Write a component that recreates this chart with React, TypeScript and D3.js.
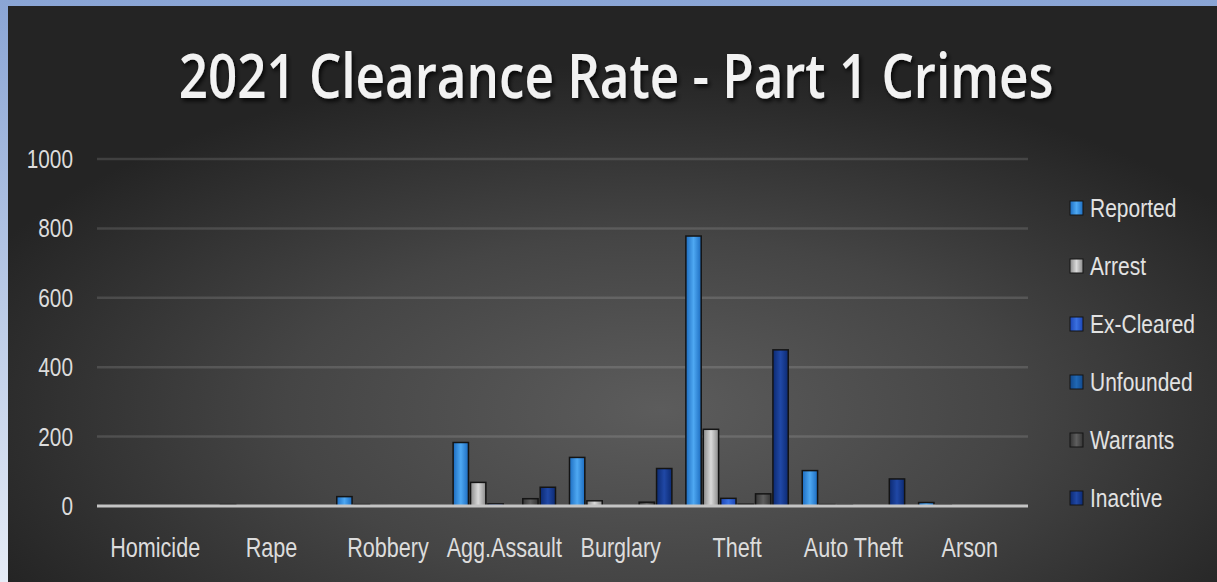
import React from "react";
import * as d3 from "d3";

const categories = ["Homicide", "Rape", "Robbery", "Agg.Assault", "Burglary", "Theft", "Auto Theft", "Arson"];
const seriesNames = ["Reported", "Arrest", "Ex-Cleared", "Unfounded", "Warrants", "Inactive"];
const reported = [1, 4, 27, 183, 140, 778, 102, 10];
const arrest = [0, 0, 4, 68, 15, 221, 4, 3];
const exCleared = [0, 0, 1, 6, 0, 22, 3, 0];
const unfounded = [0, 0, 0, 0, 0, 5, 0, 0];
const warrants = [0, 0, 0, 21, 11, 35, 0, 0];
const inactive = [0, 0, 0, 54, 108, 450, 78, 0];
const yTicks = [0, 200, 400, 600, 800, 1000];
const title = "2021 Clearance Rate - Part 1 Crimes";

const seriesValues = [reported, arrest, exCleared, unfounded, warrants, inactive];
const seriesColors = [
  ["#1c6cc0", "#4ea8f2"],
  ["#8a8a8a", "#dadada"],
  ["#1b45b5", "#3a70e0"],
  ["#12488a", "#2068b4"],
  ["#353535", "#5e5e5e"],
  ["#0c2a72", "#2048a6"],
];

const W = 1217;
const H = 582;
const FONT = "'Liberation Sans', Arial, sans-serif";

function NarrowText(props: {
  x: number;
  y: number;
  sx: number;
  size: number;
  anchor?: "start" | "middle" | "end";
  fill: string;
  children: React.ReactNode;
}) {
  return (
    <g transform={`translate(${props.x},${props.y}) scale(${props.sx},1)`}>
      <text x={0} y={0} textAnchor={props.anchor || "start"} fontFamily={FONT} fontSize={props.size} fill={props.fill}>
        {props.children}
      </text>
    </g>
  );
}

export default function App() {
  const plotLeft = 97;
  const plotRight = 1028;
  const y = d3.scaleLinear().domain([0, 1000]).range([506, 159]);
  const x0 = d3.scaleBand<string>().domain(categories).range([plotLeft, plotRight]).padding(0);
  const gw = x0.bandwidth();
  const x1 = d3.scaleBand<string>().domain(seriesNames).range([7, gw - 7]).paddingInner(0.12);

  const legendY = d3.scalePoint<string>().domain(seriesNames).range([208, 498]);

  return (
    <svg width={W} height={H} style={{ position: "absolute", left: 0, top: 0 }}>
      <defs>
        <linearGradient id="slideBg" x1="0" y1="0" x2="0" y2="1">
          <stop offset="0" stopColor="#8aa5d5" />
          <stop offset="1" stopColor="#e6ecf6" />
        </linearGradient>
        <radialGradient id="chartBg" cx="0.52" cy="0.7" r="0.6" fx="0.54" fy="0.7">
          <stop offset="0" stopColor="#5c5c5c" />
          <stop offset="0.5" stopColor="#454545" />
          <stop offset="1" stopColor="#242424" />
        </radialGradient>
        {seriesColors.map((c, i) => (
          <linearGradient key={i} id={`bar${i}`} x1="0" y1="0" x2="1" y2="0">
            <stop offset="0" stopColor={c[0]} />
            <stop offset="0.5" stopColor={c[1]} />
            <stop offset="1" stopColor={c[0]} />
          </linearGradient>
        ))}
        <filter id="shadow" filterUnits="userSpaceOnUse" x={100} y={20} width={1017} height={110}>
          <feDropShadow dx="2" dy="3" stdDeviation="2" floodColor="#000" floodOpacity="0.8" />
        </filter>
      </defs>
      <rect x={0} y={0} width={W} height={H} fill="url(#slideBg)" />
      <rect x={8} y={6} width={W - 8} height={H - 6} fill="url(#chartBg)" />

      <g filter="url(#shadow)">
        <g transform="translate(616,98) scale(0.825,1)">
          <text
            x={0}
            y={0}
            textAnchor="middle"
            fontFamily="'Open Sans', sans-serif"
            fontWeight={600}
            fontSize={62}
            fill="#f2f2f2"
          >
            {title}
          </text>
        </g>
      </g>

      {yTicks.map((t) => (
        <g key={t}>
          {t > 0 && (
            <line x1={plotLeft} x2={plotRight} y1={y(t)} y2={y(t)} stroke="rgba(255,255,255,0.13)" strokeWidth={2.5} />
          )}
          <NarrowText x={73} y={y(t) + 9} sx={0.8} size={26} anchor="end" fill="#dcdcdc">
            {t}
          </NarrowText>
        </g>
      ))}

      {categories.map((cat, ci) => (
        <g key={cat} transform={`translate(${x0(cat)},0)`}>
          {seriesNames.map((s, si) => {
            const v = seriesValues[si][ci];
            if (v <= 0) return null;
            const top = y(v);
            return (
              <rect
                key={s}
                x={x1(s)}
                y={top}
                width={x1.bandwidth()}
                height={y(0) - top}
                fill={`url(#bar${si})`}
                stroke="#141414"
                strokeWidth={1.5}
              />
            );
          })}
        </g>
      ))}

      <line x1={plotLeft} x2={plotRight} y1={y(0)} y2={y(0)} stroke="#c4c4c4" strokeWidth={3} />

      {categories.map((cat) => (
        <NarrowText
          key={cat}
          x={(x0(cat) as number) + gw / 2}
          y={557}
          sx={0.8}
          size={27}
          anchor="middle"
          fill="#dcdcdc"
        >
          {cat}
        </NarrowText>
      ))}

      {seriesNames.map((s, si) => (
        <g key={s} transform={`translate(0,${legendY(s)})`}>
          <rect x={1070} y={-7} width={13} height={14} fill={`url(#bar${si})`} stroke="#141414" strokeWidth={1} />
          <NarrowText x={1090} y={9} sx={0.84} size={25} fill="#e2e2e2">
            {s}
          </NarrowText>
        </g>
      ))}
    </svg>
  );
}
